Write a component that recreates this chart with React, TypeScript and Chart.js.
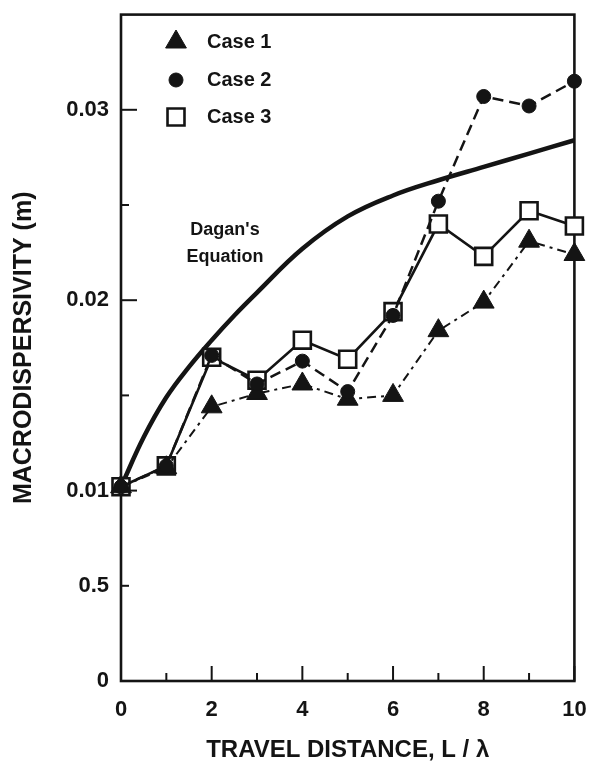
import React, { useEffect, useRef } from "react";
import { Chart, registerables } from "chart.js";
import { drawPoint } from "chart.js/helpers";

Chart.register(...registerables);

// ---- data ----
const xValues = [0, 1, 2, 3, 4, 5, 6, 7, 8, 9, 10];
const case1 = [0.0102, 0.0112, 0.0144, 0.0151, 0.0156, 0.0148, 0.015, 0.0184, 0.0199, 0.0231, 0.0224];
const case2 = [0.0102, 0.0113, 0.0171, 0.0156, 0.0168, 0.0152, 0.0192, 0.0252, 0.0307, 0.0302, 0.0315];
const case3 = [0.0102, 0.0113, 0.017, 0.0158, 0.0179, 0.0169, 0.0194, 0.024, 0.0223, 0.0247, 0.0239];
const daganX = [0, 0.5, 1, 1.5, 2, 2.5, 3, 4, 5, 6, 7, 8, 9, 10];
const daganY = [0.0102, 0.0128, 0.0149, 0.0165, 0.0179, 0.0192, 0.0204, 0.0227, 0.0244, 0.0255, 0.0263, 0.027, 0.0277, 0.0284];

const xTickValues = [0, 1, 2, 3, 4, 5, 6, 7, 8, 9, 10];
const xTickLabels = ["0", "", "2", "", "4", "", "6", "", "8", "", "10"];
const yTickValues = [0, 0.005, 0.01, 0.015, 0.02, 0.025, 0.03];
const yTickLabels = ["0", "0.5", "0.01", "", "0.02", "", "0.03"];
const yTickLong = [false, false, true, false, true, false, true];

const legendLabels = ["Case 1", "Case 2", "Case 3"];
const curveLabel = ["Dagan's", "Equation"];
const xTitle = "TRAVEL DISTANCE, L / λ";
const yTitle = "MACRODISPERSIVITY (m)";

const INK = "#141414";
const FONT = "'Liberation Sans', Arial, Helvetica, sans-serif";

const framePlugin = {
  id: "frameTicks",
  beforeDatasetsDraw(chart: any) {
    const { ctx, chartArea: a, scales } = chart;
    ctx.save();
    ctx.strokeStyle = INK;
    ctx.lineWidth = 2.6;
    ctx.strokeRect(a.left, a.top, a.right - a.left, a.bottom - a.top);
    ctx.lineWidth = 2;
    const xs = scales.x;
    xTickValues.forEach((v, i) => {
      const px = xs.getPixelForValue(v);
      const len = xTickLabels[i] !== "" ? 15 : 8;
      ctx.beginPath();
      ctx.moveTo(px, a.bottom);
      ctx.lineTo(px, a.bottom - len);
      ctx.stroke();
    });
    const ys = scales.y;
    yTickValues.forEach((v, i) => {
      if (v === 0) return;
      const py = ys.getPixelForValue(v);
      const len = yTickLong[i] ? 16 : 8;
      ctx.beginPath();
      ctx.moveTo(a.left, py);
      ctx.lineTo(a.left + len, py);
      ctx.stroke();
    });
    ctx.restore();
  },
  afterDatasetsDraw(chart: any) {
    const { ctx } = chart;
    ctx.save();
    const rowsY = [42, 80, 117];
    const markerX = 176;
    legendLabels.forEach((lab, i) => {
      const ds = chart.data.datasets.find((d: any) => d.label === lab);
      ctx.fillStyle = ds.pointBackgroundColor;
      ctx.strokeStyle = ds.pointBorderColor;
      ctx.lineWidth = ds.pointBorderWidth;
      ctx.setLineDash([]);
      drawPoint(ctx, {
        pointStyle: ds.pointStyle,
        radius: ds.pointRadius,
        borderWidth: ds.pointBorderWidth,
        rotation: 0,
      } as any, markerX, rowsY[i]);
      ctx.fillStyle = INK;
      ctx.font = `bold 20px ${FONT}`;
      ctx.textAlign = "left";
      ctx.textBaseline = "middle";
      ctx.fillText(lab, 207, rowsY[i]);
    });
    ctx.font = `bold 18px ${FONT}`;
    ctx.textAlign = "center";
    ctx.textBaseline = "middle";
    ctx.fillStyle = INK;
    ctx.fillText(curveLabel[0], 225, 230);
    ctx.fillText(curveLabel[1], 225, 257);
    ctx.restore();
  },
};

export default function App() {
  const ref = useRef<HTMLCanvasElement>(null);
  useEffect(() => {
    const canvas = ref.current!;
    const pts = (ys: number[]) => xValues.map((x, i) => ({ x, y: ys[i] }));
    const chart = new Chart(canvas, {
      type: "line",
      data: {
        datasets: [
          {
            label: "Case 2",
            data: pts(case2),
            order: 0,
            borderColor: INK,
            borderWidth: 2.5,
            borderDash: [11, 6],
            pointStyle: "circle",
            pointRadius: 7,
            pointBackgroundColor: INK,
            pointBorderColor: INK,
            pointBorderWidth: 1,
            fill: false,
            tension: 0,
            clip: false,
          } as any,
          {
            label: "Case 1",
            data: pts(case1),
            order: 1,
            borderColor: INK,
            borderWidth: 2,
            borderDash: [9, 5, 3, 5],
            pointStyle: "triangle",
            pointRadius: 12,
            pointBackgroundColor: INK,
            pointBorderColor: INK,
            pointBorderWidth: 1,
            fill: false,
            tension: 0,
            clip: false,
          } as any,
          {
            label: "Case 3",
            data: pts(case3),
            order: 2,
            borderColor: INK,
            borderWidth: 2.6,
            pointStyle: "rect",
            pointRadius: 12,
            pointBackgroundColor: "#ffffff",
            pointBorderColor: INK,
            pointBorderWidth: 2.6,
            fill: false,
            tension: 0,
            clip: false,
          } as any,
          {
            label: "Dagan's Equation",
            data: daganX.map((x, i) => ({ x, y: daganY[i] })),
            order: 3,
            borderColor: INK,
            borderWidth: 4.5,
            pointRadius: 0,
            tension: 0.4,
            fill: false,
            clip: false,
          } as any,
        ],
      },
      options: {
        responsive: false,
        devicePixelRatio: 1,
        animation: false,
        events: [],
        layout: { padding: { top: 4, right: 14, left: 0, bottom: 0 } },
        plugins: {
          legend: { display: false },
          tooltip: { enabled: false },
        },
        scales: {
          x: {
            type: "linear",
            min: 0,
            max: 10,
            grid: { display: false, drawTicks: false },
            border: { display: false },
            afterBuildTicks: (s: any) => {
              s.ticks = xTickValues.map((v) => ({ value: v }));
            },
            afterFit: (s: any) => {
              s.height = 84;
              s.paddingLeft = 0;
              s.paddingRight = 0;
            },
            ticks: {
              autoSkip: false,
              maxRotation: 0,
              padding: 16,
              color: INK,
              font: { family: FONT, weight: "bold", size: 22 },
              callback: (_v: any, i: number) => xTickLabels[i],
            },
            title: {
              display: true,
              text: xTitle,
              color: INK,
              font: { family: FONT, weight: "bold", size: 24 },
              padding: { top: 0, bottom: 0 },
            },
          },
          y: {
            type: "linear",
            min: 0,
            max: 0.035,
            grid: { display: false, drawTicks: false },
            border: { display: false },
            afterBuildTicks: (s: any) => {
              s.ticks = yTickValues.map((v) => ({ value: v }));
            },
            afterFit: (s: any) => {
              s.width = 121;
              s.paddingTop = 0;
              s.paddingBottom = 0;
            },
            ticks: {
              autoSkip: false,
              padding: 12,
              color: INK,
              font: { family: FONT, weight: "bold", size: 22 },
              callback: (_v: any, i: number) => yTickLabels[i],
            },
            title: {
              display: true,
              text: yTitle,
              color: INK,
              font: { family: FONT, weight: "bold", size: 25 },
              padding: { top: 9, bottom: 0 },
            },
          },
        },
      } as any,
      plugins: [framePlugin],
    });
    return () => chart.destroy();
  }, []);
  return (
    <div style={{ position: "fixed", left: 0, top: 0, width: 589, height: 765, background: "#fff" }}>
      <canvas ref={ref} width={589} height={765} style={{ display: "block", width: 589, height: 765 }} />
    </div>
  );
}
